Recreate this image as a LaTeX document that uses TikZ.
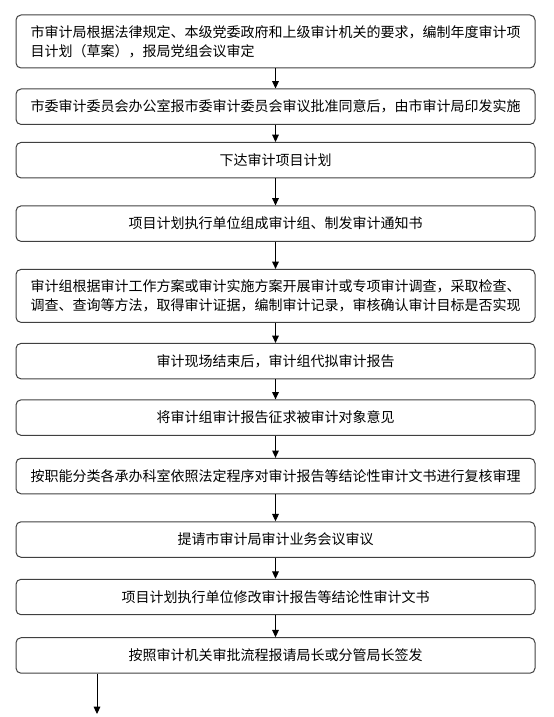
\documentclass[tikz,border=0pt]{standalone}
\usepackage{fontspec}
\setmainfont{Noto Sans CJK SC}
\usetikzlibrary{positioning,arrows.meta}

\tikzset{
	stage/.style={draw=black!75, rounded corners=3.75pt, line width=0.75pt, minimum width=389.25pt, minimum height=26.6pt, inner sep=0pt, align=center, font=\fontsize{10.5}{14.25}\selectfont},
	twoline/.style={minimum height=39.75pt},
	flow/.style={-{Triangle[width=5pt,length=5.5pt]}, line width=0.75pt}
}

\begin{document}
\begin{tikzpicture}[x=0.75pt, y=-0.75pt]
			\useasboundingbox (0,0) rectangle (553,717);
			
			\node[stage, twoline, align=left] (plan) at (275.5,41.5) {市审计局根据法律规定、本级党委政府和上级审计机关的要求，编制年度审计项\\目计划（草案），报局党组会议审定};
			\node[stage, below=15pt of plan] (approve) {市委审计委员会办公室报市委审计委员会审议批准同意后，由市审计局印发实施};
			\node[stage, below=12.75pt of approve] (issue) {下达审计项目计划};
			\node[stage, below=20.25pt of issue] (team) {项目计划执行单位组成审计组、制发审计通知书};
			\node[stage, twoline, below=20.25pt of team] (audit) {审计组根据审计工作方案或审计实施方案开展审计或专项审计调查，采取检查、\\调查、查询等方法，取得审计证据，编制审计记录，审核确认审计目标是否实现};
			\node[stage, below=15pt of audit] (draft) {审计现场结束后，审计组代拟审计报告};
			\node[stage, below=15pt of draft] (opinion) {将审计组审计报告征求被审计对象意见};
			\node[stage, below=16.5pt of opinion] (review) {按职能分类各承办科室依照法定程序对审计报告等结论性审计文书进行复核审理};
			\node[stage, below=20.25pt of review] (meeting) {提请市审计局审计业务会议审议};
			\node[stage, below=15.75pt of meeting] (revise) {项目计划执行单位修改审计报告等结论性审计文书};
			\node[stage, below=16.5pt of revise] (sign) {按照审计机关审批流程报请局长或分管局长签发};
			
			\coordinate (out) at (97,714);
			
			\draw[flow] (plan) -- (approve);
			\draw[flow] (approve) -- (issue);
			\draw[flow] (issue) -- (team);
			\draw[flow] (team) -- (audit);
			\draw[flow] (audit) -- (draft);
			\draw[flow] (draft) -- (opinion);
			\draw[flow] (opinion) -- (review);
			\draw[flow] (review) -- (meeting);
			\draw[flow] (meeting) -- (revise);
			\draw[flow] (revise) -- (sign);
			\draw[flow] (sign.south -| out) -- (out);
			
\end{tikzpicture}
\end{document}
